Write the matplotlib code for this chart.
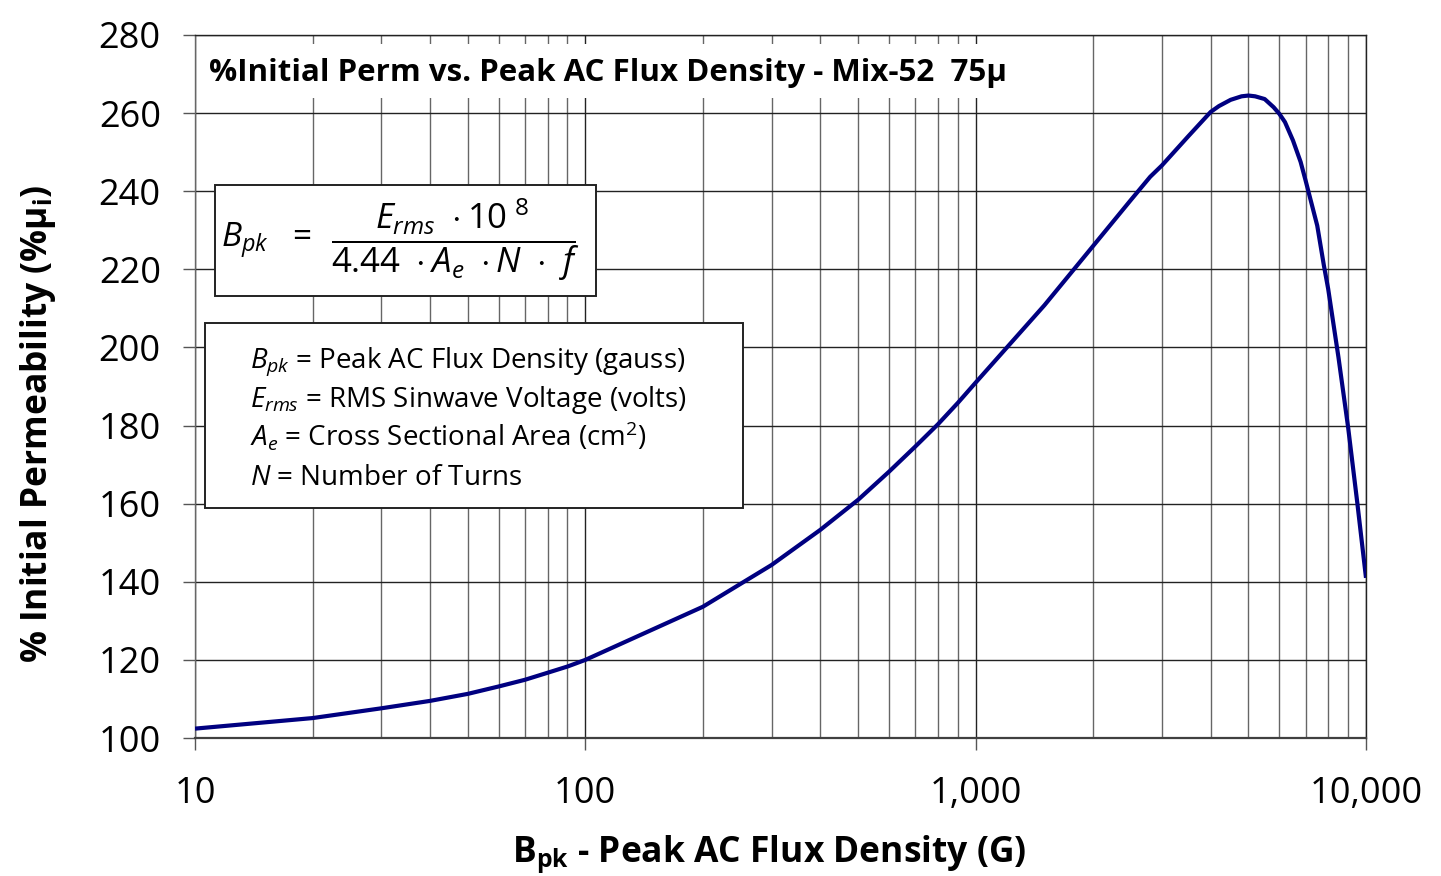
import matplotlib
matplotlib.use("Agg")
import matplotlib.pyplot as plt
from matplotlib.patches import Rectangle
from matplotlib.ticker import FixedLocator, FixedFormatter, LogLocator, NullFormatter

# ---- data ----
flux_g = [10, 20, 30, 40, 50, 60, 70, 80, 90, 100,
          200, 300, 400, 500, 600, 700, 800, 900, 1000,
          1500, 2000, 2500, 2800, 3000, 3500, 4000, 4200, 4500, 4800, 5000,
          5200, 5500, 5800, 6000, 6200, 6500, 6800, 7000, 7500, 7800,
          8000, 8500, 9000, 9500, 10000]
perm_pct = [102.4, 105.1, 107.6, 109.5, 111.3, 113.2, 114.9, 116.7, 118.3, 120.0,
            133.6, 144.3, 153.3, 161.0, 168.2, 174.6, 180.3, 185.8, 191.0,
            210.8, 226.0, 237.8, 243.7, 246.6, 254.0, 260.3, 261.8, 263.4, 264.3, 264.5,
            264.3, 263.6, 261.5, 259.8, 257.7, 253.0, 247.5, 242.8, 231.2, 221.0,
            215.0, 197.5, 179.5, 160.2, 141.0]
x_ticks = [10, 100, 1000, 10000]
x_tick_labels = ["10", "100", "1,000", "10,000"]
y_ticks = [100, 120, 140, 160, 180, 200, 220, 240, 260, 280]

FAM = "Open Sans"
plt.rcParams["font.family"] = [FAM, "DejaVu Sans"]
plt.rcParams["mathtext.fontset"] = "custom"
plt.rcParams["mathtext.rm"] = FAM
plt.rcParams["mathtext.it"] = FAM + ":italic"
plt.rcParams["mathtext.bf"] = FAM + ":bold"

W, H = 1441, 876
fig = plt.figure(figsize=(W / 100, H / 100), dpi=100)
L, R, T, B = 195, 1366, 35, 738
ax = fig.add_axes([L / W, 1 - B / H, (R - L) / W, (B - T) / H])

ax.plot(flux_g, perm_pct, color="#000080", lw=3.0, zorder=3,
        solid_capstyle="butt", solid_joinstyle="round")

ax.set_xscale("log")
ax.set_xlim(10, 10000)
ax.set_ylim(100, 280)
ax.xaxis.set_major_locator(FixedLocator(x_ticks))
ax.xaxis.set_major_formatter(FixedFormatter(x_tick_labels))
ax.xaxis.set_minor_locator(LogLocator(base=10, subs=range(2, 10)))
ax.xaxis.set_minor_formatter(NullFormatter())
ax.set_yticks(y_ticks)

ax.grid(which="major", color="#222222", lw=1.0, zorder=1)
ax.grid(which="minor", axis="x", color="#666666", lw=1.0, zorder=1)
ax.tick_params(axis="both", which="major", direction="out", length=8.6, width=1.0,
               color="#555555", labelsize=26)
ax.tick_params(axis="y", which="major", pad=16)
ax.tick_params(axis="x", which="major", pad=19)
ax.tick_params(axis="x", which="minor", length=0)

for s in ["top", "right"]:
    ax.spines[s].set_color("#222222")
    ax.spines[s].set_linewidth(1.0)
ax.spines["left"].set_color("#666666")
ax.spines["left"].set_linewidth(1.0)
ax.spines["bottom"].set_color("#404040")
ax.spines["bottom"].set_linewidth(1.6)

ax.set_xlabel(r"$\mathbf{B}_{\mathbf{pk}}$ - Peak AC Flux Density (G)",
              fontsize=25.5, fontweight="bold")
ax.set_ylabel(r"% Initial Permeability (%µ$_{\mathbf{i}}$)",
              fontsize=25.5, fontweight="bold")
ax.yaxis.set_label_coords(-0.117, 0.447)
ax.xaxis.set_label_coords(0.49, -0.136)


def fx(px):
    return px / W


def fy(py):
    return 1 - py / H


def box(x0, y0, x1, y1, edge=True):
    r = Rectangle((fx(x0), fy(y1)), fx(x1) - fx(x0), fy(y0) - fy(y1),
                  transform=fig.transFigure, facecolor="white",
                  edgecolor="#222222" if edge else "none", lw=1.4, zorder=5)
    fig.patches.append(r)


# title (white background over grid)
box(200, 44, 1018, 98, edge=False)
fig.text(fx(209), fy(73), "%Initial Perm vs. Peak AC Flux Density - Mix-52  75µ",
         fontsize=22.5, fontweight="bold", ha="left", va="center", zorder=6)

# formula box
box(215, 185, 596, 296)
fig.text(fx(221), fy(240), r"$B_{pk}\ \ =$", fontsize=24, ha="left", va="center", zorder=6)
fig.text(fx(455), fy(240),
         r"$\dfrac{E_{rms}\ \cdot\mathrm{10}^{\ \mathrm{8}}}{\mathrm{4.44}\ \cdot A_{e}\ \cdot N\ \cdot\ f}$",
         fontsize=25, ha="center", va="center", zorder=6)

# definitions box
box(205, 323, 743, 508)
defs = [r"$B_{pk}$ = Peak AC Flux Density (gauss)",
        r"$E_{rms}$ = RMS Sinwave Voltage (volts)",
        r"$A_{e}$ = Cross Sectional Area (cm$^{\mathrm{2}}$)",
        r"$N$ = Number of Turns"]
for i, s in enumerate(defs):
    fig.text(fx(250), fy(368 + i * 39), s, fontsize=20, ha="left", va="baseline", zorder=6)

fig.savefig("out.png", dpi=100)
